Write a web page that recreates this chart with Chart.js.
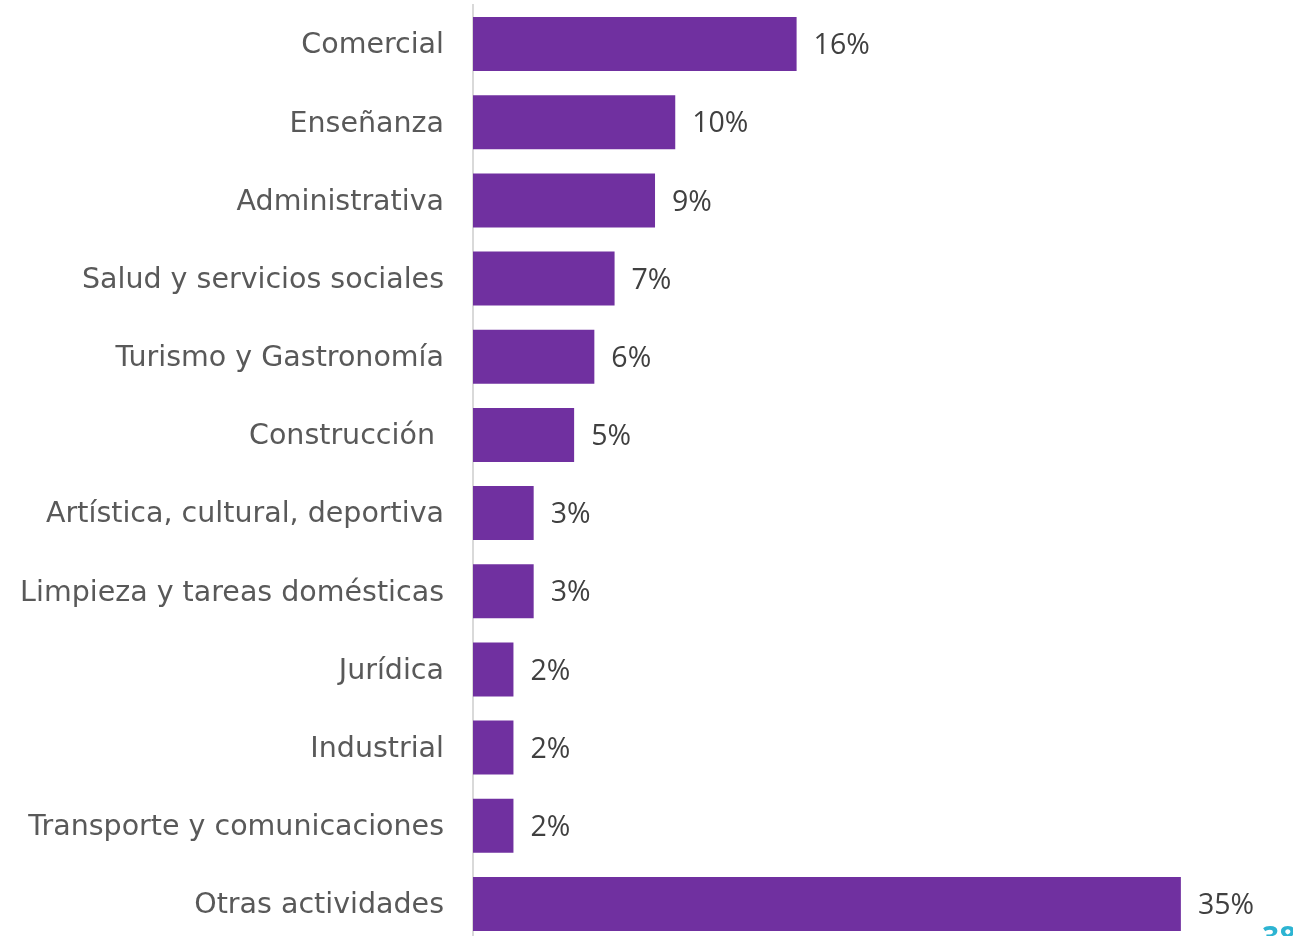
<!DOCTYPE html>
<html>
<head>
<meta charset="utf-8">
<script src="https://cdn.jsdelivr.net/npm/chart.js@4.4.1/dist/chart.umd.min.js"></script>
<style>
  html, body { margin: 0; padding: 0; background: #fff; overflow: hidden; }
  #wrap { position: relative; width: 1293px; height: 944px; }
  #pagina { position: absolute; left: 1262px; top: 916px; font-family: "Open Sans"; font-size: 30px; font-weight: bold; color: #2DB4D2; }
</style>
</head>
<body>
<div id="wrap">
  <canvas id="grafico"></canvas>
</div>
<div id="pagina">38</div>
<script>
// Datos del gráfico
var categorias = ['Comercial', 'Enseñanza', 'Administrativa', 'Salud y servicios sociales',
  'Turismo y Gastronomía', 'Construcción ', 'Artística, cultural, deportiva',
  'Limpieza y tareas domésticas', 'Jurídica', 'Industrial',
  'Transporte y comunicaciones', 'Otras actividades'];
var porcentajes = [16, 10, 9, 7, 6, 5, 3, 3, 2, 2, 2, 35];

// Etiquetas de valor al final de cada barra
var etiquetasValor = {
  id: 'etiquetasValor',
  afterDatasetsDraw: function (chart) {
    var ctx = chart.ctx;
    var meta = chart.getDatasetMeta(0);
    ctx.save();
    ctx.font = '28.5px "Open Sans"';
    ctx.fillStyle = '#404040';
    ctx.textAlign = 'left';
    ctx.textBaseline = 'middle';
    meta.data.forEach(function (barra, i) {
      ctx.fillText(porcentajes[i] + '%', barra.x + 17, barra.y + 2);
    });
    ctx.restore();
  }
};

var ctx = document.getElementById('grafico').getContext('2d');
var grafico = new Chart(ctx, {
  type: 'bar',
  data: {
    labels: categorias,
    datasets: [{
      data: porcentajes,
      backgroundColor: '#7030A0',
      borderWidth: 0,
      barPercentage: 0.69,
      categoryPercentage: 1
    }]
  },
  options: {
    indexAxis: 'y',
    responsive: true,
    maintainAspectRatio: false,
    animation: false,
    layout: { padding: { top: 5, bottom: 1, right: 11, left: 0 } },
    plugins: {
      legend: { display: false },
      tooltip: { enabled: false }
    },
    scales: {
      x: {
        display: false,
        min: 0,
        max: 40
      },
      y: {
        grid: { display: false, drawTicks: false },
        border: { display: true, color: '#D9D9D9', width: 2 },
        ticks: {
          padding: 29,
          labelOffset: 2,
          color: '#595959',
          font: { family: 'DejaVu Sans', size: 28.5 }
        },
        afterFit: function (escala) {
          escala.width = 473;
          escala.paddingTop = 0;
          escala.paddingBottom = 0;
        }
      }
    }
  },
  plugins: [etiquetasValor]
});
</script>
</body>
</html>
